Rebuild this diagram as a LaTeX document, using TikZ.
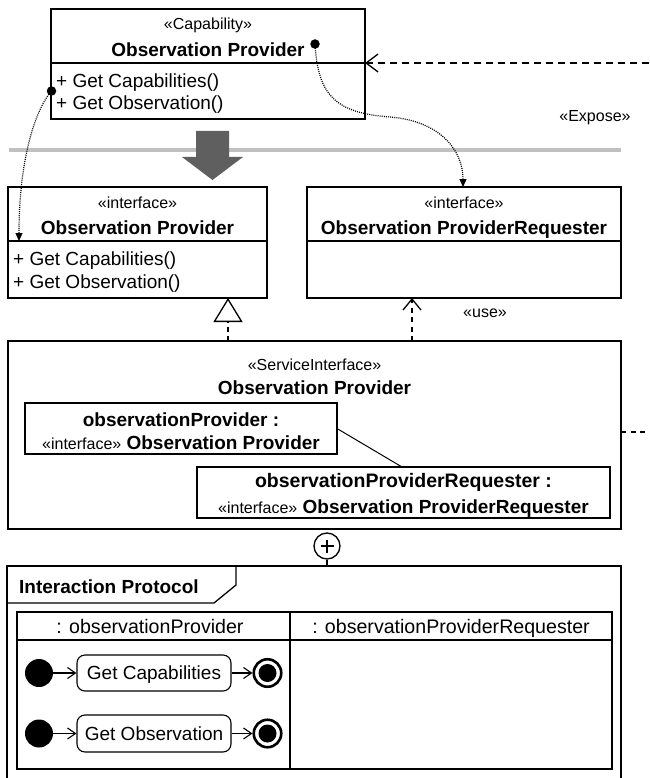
\documentclass[tikz,border=0pt]{standalone}
\usepackage{fontspec}
\setmainfont{Liberation Sans}
\usetikzlibrary{arrows.meta,calc}
\newcommand\stfont{\fontsize{16}{19}\selectfont}
\newcommand\bdfont{\fontsize{19}{23}\selectfont}
\newcommand\lanefont{\fontsize{19.6}{23}\selectfont}
\definecolor{railgray}{HTML}{C0C0C0}
\definecolor{arrowgray}{HTML}{5F5F5F}

\begin{document}
\begin{tikzpicture}[x=1pt,y=-1pt,
  box/.style={draw, line width=1.3pt, inner sep=0pt, outer sep=0pt, anchor=north west},
  st/.style={font=\stfont, inner sep=0pt, anchor=base},
  nm/.style={font=\bdfont\bfseries, inner sep=0pt, anchor=base},
  op/.style={font=\bdfont, inner sep=0pt, anchor=base west},
  txt/.style={font=\bdfont, inner sep=0pt, anchor=base},
  sep/.style={line width=1.3pt},
  dep/.style={line width=1.3pt, dash pattern=on 7pt off 5pt},
  dep2/.style={line width=1.3pt, dash pattern=on 5pt off 4.5pt},
  tracearrow/.style={line width=1.2pt, dash pattern=on 1pt off 1.1pt, -{Triangle[length=8pt,width=7pt]}},
  barbtip/.style={-{Straight Barb[length=12pt,width=18pt]}},
  dotend/.style={circle, fill, inner sep=0pt, minimum size=9.5pt},
  initnode/.style={circle, fill, inner sep=0pt, minimum size=28pt},
  actnode/.style={draw, rounded corners=8pt, line width=1.1pt, inner sep=0pt,
    minimum width=154pt, minimum height=36pt, font=\bdfont, text height=13.6pt, text depth=0pt},
  finnode/.style={circle, draw, line width=2.6pt, inner sep=0pt, minimum size=27.5pt},
  fincore/.style={circle, fill, inner sep=0pt, minimum size=18pt},
  flow/.style={line width=1.1pt, -{Straight Barb[length=8pt,width=11pt]}}
]
\useasboundingbox (0,0) rectangle (649,778);

% separator rail and transformation arrow
\draw[railgray, line width=4pt] (9,150) -- (621,150);
\fill[arrowgray] (196,131) -- (229,131) -- (229,157) -- (243,157) -- (212.5,180)
  -- (182,157) -- (196,157) -- cycle;

% capability class
\node[box, minimum width=314pt, minimum height=110pt] (cap) at (51,9) {};
\draw[sep] (51,63) -- (365,63);
\node[st] (capSt) at (208,30) {«Capability»};
\node[nm] (capNm) at (208,56.5) {Observation Provider};
\node[op] (capOp1) at (56,87.5) {+ Get Capabilities()};
\node[op] (capOp2) at (56,110) {+ Get Observation()};

% provided interface
\node[box, minimum width=259pt, minimum height=111pt] (ifc) at (8,187) {};
\draw[sep] (8,241) -- (267,241);
\node[st] (ifcSt) at (137.5,208) {«interface»};
\node[nm] (ifcNm) at (137.5,234.5) {Observation Provider};
\node[op] (ifcOp1) at (13,265.5) {+ Get Capabilities()};
\node[op] (ifcOp2) at (13,288) {+ Get Observation()};

% required interface
\node[box, minimum width=314pt, minimum height=111pt] (req) at (307,187) {};
\draw[sep] (307,241) -- (621,241);
\node[st] (reqSt) at (464,208) {«interface»};
\node[nm] (reqNm) at (464,234.5) {Observation ProviderRequester};

% trace links
\node[dotend] (dotL) at (51.5,91) {};
\node[dotend] (dotR) at (315,44) {};
\draw[tracearrow] (dotL.center) .. controls (35,110) and (19,160) .. ($(ifc.north west)+(11,54)$);
\draw[tracearrow] (dotR.center) .. controls (318,95) and (335,113) .. (390,117)
  .. controls (440,121) and (463,150) .. ($(req.north west)+(156,0)$);

% expose dependency
\coordinate (expR) at (649,63);
\draw[dep, barbtip] (expR) -- (cap.east |- expR);
\node[st] (expose) at (595,122) {«Expose»};

% service interface
\node[box, minimum width=613pt, minimum height=188pt] (si) at (8,341) {};
\node[st] (siSt) at (314.5,370) {«ServiceInterface»};
\node[nm] (siNm) at (314.5,394) {Observation Provider};

\node[box, minimum width=312pt, minimum height=51pt] (p1) at (25,403) {};
\node[nm] (p1a) at (181,426) {observationProvider :};
\node[txt] (p1b) at (181,449) {{\stfont «interface»} \textbf{Observation Provider}};

\node[box, minimum width=413pt, minimum height=51pt] (p2) at (197,467) {};
\node[nm, font=\fontsize{19.5}{23}\selectfont\bfseries] (p2a) at (403.5,487) {observationProviderRequester :};
\node[txt] (p2b) at (403.5,513) {{\stfont «interface»} \textbf{Observation ProviderRequester}};

\draw[line width=1pt] (p1.east) -- ($(p2.north west)+(205,0)$);

\coordinate (stubR) at (649,432);
\draw[dep2] (si.east |- stubR) -- (stubR);

% realization and usage
\coordinate (realX) at (228,0);
\draw[dep2, -{Triangle[open, length=24pt, width=29pt]}] (si.north -| realX) -- (ifc.south -| realX);
\coordinate (useX) at (412,0);
\draw[dep2, -{Straight Barb[length=11pt,width=18pt]}] (si.north -| useX) -- (req.south -| useX);
\node[st] (use) at (485,317) {«use»};

% nesting symbol
\node[circle, draw, line width=1.3pt, minimum size=26pt, inner sep=0pt] (plus) at (327,546) {};
\draw[line width=1.5pt] ($(plus.center)+(-6.5,0)$) -- ($(plus.center)+(6.5,0)$);
\draw[line width=1.5pt] ($(plus.center)+(0,-6.5)$) -- ($(plus.center)+(0,6.5)$);

% interaction protocol frame
\node[box, minimum width=614pt, minimum height=230pt] (frame) at (7,566) {};
\draw[sep] (plus.south) -- (plus.south |- frame.north);
\draw[sep] (7,603) -- (214,603) -- (236,585) -- (236,566);
\node[nm, anchor=base west] (frameLbl) at (19,593) {Interaction Protocol};

\node[box, minimum width=595pt, minimum height=157pt] (lanes) at (17,612) {};
\draw[sep] (17,640) -- (612,640);
\draw[sep] (290,612) -- (290,769);
\node[txt, font=\lanefont] (lane1) at (150,633) {: observationProvider};
\node[txt, font=\lanefont] (lane2) at (451,633) {: observationProviderRequester};

% activities
\node[initnode] (init1) at (39,673) {};
\node[actnode] (act1) at (154,673) {Get Capabilities};
\node[finnode] (fin1) at (267.5,673) {};
\node[fincore] (fin1c) at (267.5,673) {};
\draw[flow] (init1) -- (act1);
\draw[flow] (act1) -- (fin1);

\node[initnode] (init2) at (39,733.5) {};
\node[actnode, minimum height=37pt] (act2) at (154,733.5) {Get Observation};
\node[finnode] (fin2) at (267.5,733.5) {};
\node[fincore] (fin2c) at (267.5,733.5) {};
\draw[flow] (init2) -- (act2);
\draw[flow] (act2) -- (fin2);
\end{tikzpicture}
\end{document}
